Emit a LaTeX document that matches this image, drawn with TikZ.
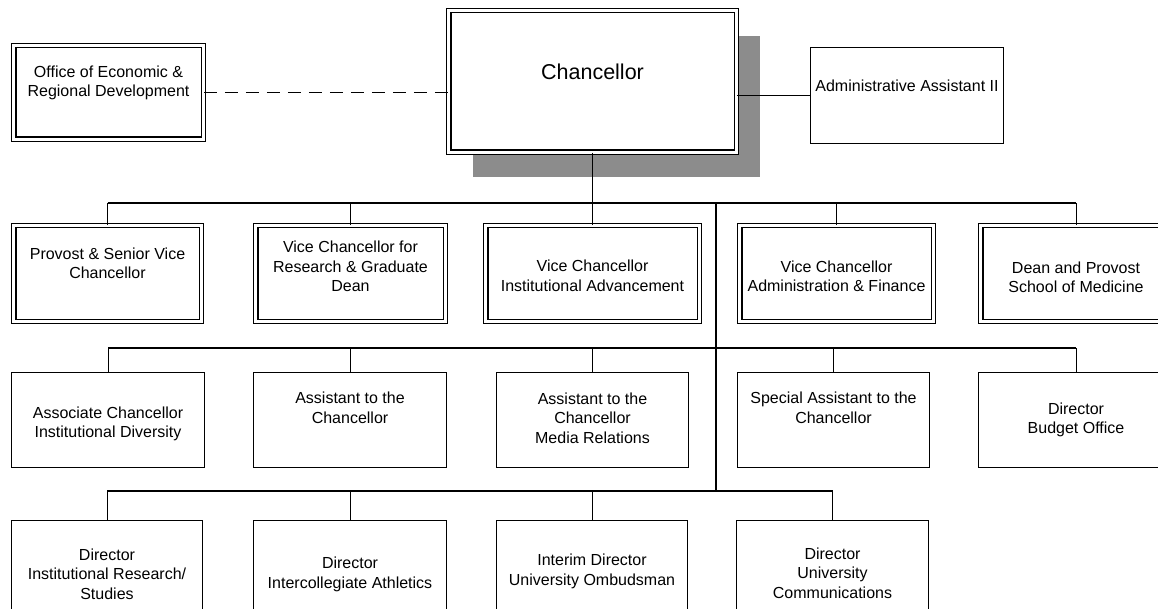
\documentclass[tikz,border=0pt]{standalone}
\usepackage{fontspec}
\setmainfont{Liberation Sans}
\usetikzlibrary{positioning,shadows}

\tikzstyle{txt} = [align=center, inner sep=0pt, text=black, font=\fontsize{16}{19.5}\selectfont]
\tikzstyle{dbox} = [draw, line width=1.2pt, double, double distance=3.2pt, minimum height=95.6pt]
\tikzstyle{sbox} = [draw, line width=1.4pt, minimum width=192.6pt, minimum height=94.6pt]
\tikzstyle{link} = [draw, line width=0.8pt]
\tikzstyle{bus}  = [draw, line width=1.3pt]

\begin{document}
\begin{tikzpicture}[x=1pt, y=-1pt]
\useasboundingbox (0,0) rectangle (1158,609);

% top =============================

\node[dbox, fill=white, minimum width=287.6pt, minimum height=141.6pt,
      drop shadow={shadow xshift=24pt, shadow yshift=-25pt, fill=black!45, opacity=1},
      label={[txt, font=\fontsize{21.5}{24}\selectfont, yshift=9.5pt]center:Chancellor}] (chancellor) at (592.5,81.5) {};
\node[dbox, minimum width=189.6pt, minimum height=93.6pt,
      label={[txt, yshift=9.5pt]center:Office of Economic \&\\Regional Development}] (office) at (108.5,92.5) {};
\node[sbox, minimum height=95.6pt,
      label={[txt, yshift=9.5pt]center:Administrative Assistant II}] (admin) at (907,95.5) {};

% vice chancellors
\node[dbox, minimum width=187.6pt, label={[txt, yshift=10pt]center:Provost \& Senior Vice\\Chancellor}] (provost) at (107.5,273.5) {};
\node[dbox, minimum width=189.6pt, right=53.2pt of provost,
      label={[txt, yshift=7pt]center:Vice Chancellor for\\Research \& Graduate\\Dean}] (research) {};
\node[dbox, minimum width=213.6pt, right=39.2pt of research,
      label={[txt, yshift=-2.5pt]center:Vice Chancellor\\Institutional Advancement}] (instadv) {};
\node[dbox, minimum width=193.6pt, right=39.2pt of instadv,
      label={[txt, yshift=-3pt]center:Vice Chancellor\\Administration \& Finance}] (adminfin) {};
\node[dbox, minimum width=190.6pt, right=46.2pt of adminfin,
      label={[txt, yshift=-4pt]center:Dean and Provost\\School of Medicine}] (dean) {};

% assistants
\node[sbox, label={[txt, yshift=-4pt]center:Associate Chancellor\\Institutional Diversity}] (assoc) at (108,420) {};
\node[sbox, right=48pt of assoc, label={[txt, yshift=12pt]center:Assistant to the\\Chancellor}] (asst) {};
\node[sbox, minimum width=191.6pt, right=49pt of asst,
      label={[txt, yshift=2pt]center:Assistant to the\\Chancellor\\Media Relations}] (media) {};
\node[sbox, minimum width=191.6pt, right=48pt of media,
      label={[txt, yshift=12pt]center:Special Assistant to the\\Chancellor}] (special) {};
\node[sbox, minimum width=194.6pt, right=48pt of special,
      label={[txt]center:Director\\Budget Office}] (budget) {};

% directors
\node[sbox, minimum width=190.6pt, label={[txt, yshift=-6pt]center:Director\\Institutional Research/\\Studies}] (instres) at (107,568) {};
\node[sbox, right=50pt of instres, label={[txt, yshift=-6.5pt]center:Director\\Intercollegiate Athletics}] (athletics) {};
\node[sbox, minimum width=190.6pt, right=49pt of athletics,
      label={[txt, yshift=-3.5pt]center:Interim Director\\University Ombudsman}] (ombud) {};
\node[sbox, minimum width=191.6pt, right=48pt of ombud,
      label={[txt, yshift=-5pt]center:Director\\University\\Communications}] (comms) {};

\coordinate (hub1) at (716,203);
\coordinate (hub2) at (716,348);
\coordinate (hub3) at (716,491);

%edges
\path[link, dash pattern=on 13pt off 8pt] (office.east) -- (office.east -| chancellor.west);
\path[link] (chancellor.east |- admin.west) -- (admin.west);
\path[link] (chancellor.south) -- (chancellor.south |- hub1);
\path[bus] (hub1) -- (hub3);

\path[bus] (provost.north |- hub1) -- (dean.north |- hub1);
\path[link] (provost.north) -- (provost.north |- hub1);
\path[link] (research.north) -- (research.north |- hub1);
\path[link] (instadv.north) -- (instadv.north |- hub1);
\path[link] (adminfin.north) -- (adminfin.north |- hub1);
\path[link] (dean.north) -- (dean.north |- hub1);

\path[bus] (assoc.north |- hub2) -- (budget.north |- hub2);
\path[link] (assoc.north) -- (assoc.north |- hub2);
\path[link] (asst.north) -- (asst.north |- hub2);
\path[link] (media.north) -- (media.north |- hub2);
\path[link] (special.north) -- (special.north |- hub2);
\path[link] (budget.north) -- (budget.north |- hub2);

\path[bus] (instres.north |- hub3) -- (comms.north |- hub3);
\path[link] (instres.north) -- (instres.north |- hub3);
\path[link] (athletics.north) -- (athletics.north |- hub3);
\path[link] (ombud.north) -- (ombud.north |- hub3);
\path[link] (comms.north) -- (comms.north |- hub3);

\end{tikzpicture}
\end{document}
